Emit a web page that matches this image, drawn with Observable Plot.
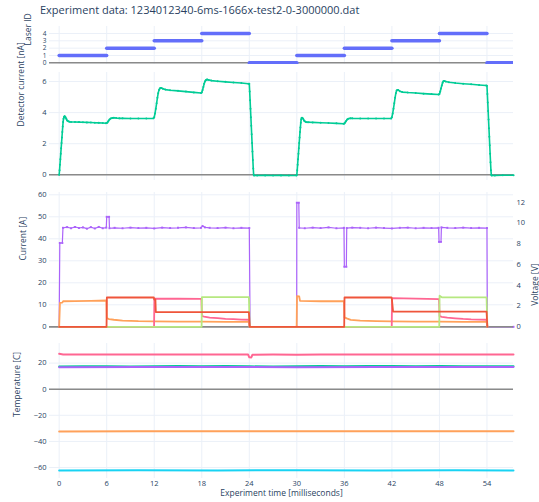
<!DOCTYPE html>
<html><head><meta charset="utf-8">
<script src="https://cdn.jsdelivr.net/npm/d3@7"></script>
<script src="https://cdn.jsdelivr.net/npm/@observablehq/plot@0.6"></script>
<style>
body{margin:0;background:#fff;}
#chart{position:relative;width:539px;height:502px;font-family:"Open Sans",sans-serif;overflow:hidden;background:#fff}
#title{position:absolute;left:40px;top:2px;font-size:11px;color:#2a3f5f;white-space:nowrap;font-family:"Open Sans",sans-serif}
</style></head><body>
<div id="chart"><div id="title">Experiment data: 1234012340-6ms-1666x-test2-0-3000000.dat</div></div>
<script>
// ---------- data ----------
const xTicks = [0, 6, 12, 18, 24, 30, 36, 42, 48, 54];
const laserTicks = [0, 1, 2, 3, 4];
const detTicks = [0, 2, 4, 6];
const ampTicks = [0, 10, 20, 30, 40, 50, 60];
const voltTicks = [0, 2, 4, 6, 8, 10, 12];
const tempTicks = [-60, -40, -20, 0, 20];

const laserStart = [0, 6, 12, 18, 24, 30, 36, 42, 48, 54];
const laserEnd   = [6, 12, 18, 24, 30, 36, 42, 48, 54, 57.35];
const laserId    = [1, 2, 3, 4, 0, 1, 2, 3, 4, 0];

// detector current [nA]: [time ms, value]
const detector = [
 [0,0],[0.05,0.3],[0.1,0.65],[0.15,1.0],[0.2,1.35],[0.25,1.7],[0.3,2.05],[0.35,2.4],[0.4,2.75],[0.45,3.1],[0.5,3.4],
 [0.55,3.6],[0.6,3.7],[0.65,3.75],[0.7,3.76],[0.8,3.7],[0.9,3.6],[1.0,3.5],[1.15,3.44],[1.3,3.41],[1.5,3.4],[2,3.4],
 [2.5,3.39],[3,3.38],[3.5,3.37],[4,3.36],[4.5,3.35],[5,3.34],[5.5,3.33],[5.9,3.32],[6.0,3.33],[6.1,3.37],[6.2,3.45],
 [6.35,3.55],[6.5,3.62],[6.7,3.66],[6.9,3.67],[7.2,3.65],[7.6,3.63],[8,3.63],[9,3.62],[10,3.62],[11,3.62],[11.9,3.63],
 [12.0,3.7],[12.1,3.95],[12.2,4.25],[12.3,4.6],[12.4,4.95],[12.5,5.25],[12.6,5.45],[12.7,5.55],[12.8,5.59],[12.9,5.58],
 [13.1,5.53],[13.4,5.48],[14,5.44],[15,5.4],[16,5.35],[17,5.3],[17.9,5.26],[18.0,5.3],[18.1,5.45],[18.2,5.65],[18.3,5.85],
 [18.4,6.0],[18.5,6.08],[18.6,6.12],[18.7,6.13],[18.9,6.1],[19.2,6.06],[20,6.02],[21,5.98],[22,5.94],[23,5.9],[23.9,5.86],
 [24.0,5.85],[24.05,5.35],[24.1,4.8],[24.15,4.25],[24.2,3.7],[24.25,3.15],[24.3,2.6],[24.35,2.05],[24.4,1.5],[24.45,0.95],
 [24.5,0.4],[24.55,0.0],[24.6,-0.05],[25,-0.05],[26,-0.04],[27,-0.05],[28,-0.04],[29,-0.05],[29.95,-0.04],
 [30,0],[30.05,0.3],[30.1,0.65],[30.15,1.0],[30.2,1.35],[30.25,1.7],[30.3,2.05],[30.35,2.4],[30.4,2.75],[30.45,3.05],
 [30.5,3.35],[30.55,3.55],[30.6,3.65],[30.65,3.67],[30.7,3.66],[30.8,3.6],[30.9,3.5],[31.0,3.44],[31.15,3.4],[31.3,3.38],
 [31.5,3.38],[32,3.37],[33,3.35],[34,3.33],[35,3.31],[35.9,3.28],[36.0,3.3],[36.1,3.36],[36.2,3.45],[36.35,3.55],
 [36.5,3.61],[36.75,3.64],[37,3.63],[38,3.62],[39,3.62],[40,3.62],[41,3.62],[41.9,3.62],[42.0,3.7],[42.1,3.95],
 [42.2,4.25],[42.3,4.6],[42.4,4.95],[42.5,5.25],[42.6,5.42],[42.7,5.46],[42.8,5.45],[43.0,5.38],[43.3,5.32],[44,5.29],
 [45,5.26],[46,5.22],[47,5.19],[47.9,5.16],[48.0,5.2],[48.1,5.35],[48.2,5.55],[48.3,5.75],[48.4,5.92],[48.5,6.02],
 [48.6,6.03],[48.8,6.0],[49.2,5.95],[50,5.9],[51,5.86],[52,5.82],[53,5.78],[53.9,5.74],[54.0,5.72],[54.05,5.2],
 [54.1,4.65],[54.15,4.1],[54.2,3.55],[54.25,3.0],[54.3,2.45],[54.35,1.9],[54.4,1.35],[54.45,0.8],[54.5,0.3],[54.55,0.0],
 [54.6,-0.05],[55,-0.05],[56,-0.03],[57.35,-0.03]
];

// total current [A] (left axis)
const currentTotal = [
 [0,0],[0.08,38.1],[0.4,38.1],[0.48,45.0],[1,45.3],[1.5,44.8],[2,45.4],[2.5,44.9],[3,45.2],[3.5,44.6],[4,45.3],[4.5,44.7],
 [5,45.4],[5.5,44.8],[5.95,45.1],[6.0,50.0],[6.3,50.0],[6.35,44.8],[7,45.0],[8,44.8],[9,45.1],[10,44.9],[11,45.0],[12,44.7],
 [13,45.1],[14,44.9],[15,45.0],[16,45.2],[17,44.9],[17.9,45.0],[18.1,45.8],[18.4,45.2],[19,45.0],[20,44.9],[21,45.1],
 [22,44.8],[23,45.0],[24.0,44.9],[24.1,0],[29.98,0],[30.0,56.4],[30.25,56.4],[30.3,45.0],[31,44.8],[32,45.1],[33,44.9],
 [34,45.2],[35,44.8],[35.95,45.0],[36.0,27.3],[36.25,27.3],[36.3,44.9],[37,45.1],[38,45.0],[39,44.8],[40,45.1],[41,44.9],
 [42,44.7],[43,45.0],[44,45.1],[45,44.8],[46,45.0],[47,44.9],[47.9,45.0],[47.95,38.6],[48.2,38.6],[48.25,45.2],[49,45.0],
 [50,44.9],[51,45.1],[52,44.9],[53,45.0],[54.0,44.9],[54.05,0],[57.35,0]
];

// laser voltages [V] (right axis)
const voltOrange = [
 [0,0],[0.1,2.31],[0.4,2.33],[0.5,2.46],[2,2.48],[4,2.5],[5.95,2.53],[6.02,0.83],[6.3,0.74],[6.9,0.68],[8,0.6],[9,0.57],
 [10,0.54],[12,0.52],[15,0.5],[18,0.49],[21,0.48],[23.95,0.47],[24.05,0],[29.98,0],[30.02,2.95],[30.3,2.92],[30.4,2.5],
 [33,2.46],[35.95,2.46],[36.02,0.91],[36.3,0.81],[36.8,0.66],[38,0.59],[40,0.54],[42,0.52],[45,0.5],[48,0.49],[51,0.48],
 [53.95,0.47],[54.05,0]
];
const voltPink = [
 [0,0],[11.98,0],[12.02,2.72],[15,2.7],[17.95,2.68],[18.02,1.04],[18.3,0.98],[19,0.89],[20,0.83],[21,0.77],[22,0.73],
 [23,0.7],[23.95,0.68],[24.05,0],[41.98,0],[42.02,2.76],[45,2.71],[47.95,2.66],[48.02,1.02],[48.3,0.95],[49,0.88],
 [50,0.82],[51,0.76],[52,0.72],[53,0.7],[53.95,0.68],[54.05,0]
];
const voltGreen = [
 [0,0],[17.98,0],[18.02,2.85],[23.95,2.85],[24.05,0],[47.98,0],[48.02,2.99],[48.3,2.84],[53.95,2.83],[54.05,0]
];
const voltRed = [
 [0,0],[5.98,0],[6.02,2.82],[11.95,2.82],[12.0,2.63],[12.15,2.63],[12.2,1.42],[23.95,1.42],[24.05,0],[35.98,0],
 [36.02,2.82],[41.95,2.82],[42.0,2.65],[42.15,1.46],[53.95,1.46],[54.05,0]
];

// temperatures [C]
const tempPink = [
 [0,27.1],[0.5,26.6],[3,26.5],[6,26.6],[9,26.5],[12,26.6],[15,26.5],[18,26.6],[21,26.5],[23.85,26.5],[24.0,24.4],
 [24.25,24.3],[24.4,26.4],[27,26.5],[30,26.4],[33,26.6],[36,26.5],[39,26.6],[42,26.5],[45,26.6],[48,26.5],[51,26.6],
 [54,26.5],[57.35,26.5]
];
const tempGreen = [
 [0,17.3],[3,17.5],[6,17.6],[9,17.4],[12,17.6],[15,17.7],[18,17.6],[21,17.8],[24,17.5],[27,17.4],[30,17.5],[33,17.7],
 [36,17.6],[39,17.7],[42,17.8],[45,17.6],[48,17.7],[51,17.6],[54,17.5],[57.35,17.5]
];
const tempPurple = [[0,16.9],[10,17.0],[20,17.0],[30,16.9],[40,17.0],[50,17.0],[57.35,17.0]];
const tempOrange = [[0,-32.4],[10,-32.3],[20,-32.3],[30,-32.2],[40,-32.3],[50,-32.3],[57.35,-32.3]];
const tempCyan = [[0,-62.2],[10,-62.1],[20,-62.2],[30,-62.1],[40,-62.2],[50,-62.1],[57.35,-62.2]];

// ---------- drawing ----------
const W = 539, ML = 49, MR = 26;
const XDOM = [-1.22, 57.35];
const GRID = "#ebf0f8", ZERO = "#8a8a8a", INK = "#2a3f5f";
const chart = document.getElementById("chart");
const tx = d => d[0], ty = d => d[1];

function panel({top, bottom, mt = 10, mb = 10, ydomain, marks}) {
  const svg = Plot.plot({
    width: W, height: bottom - top + mt + mb,
    marginLeft: ML, marginRight: MR, marginTop: mt, marginBottom: mb,
    x: {domain: XDOM, axis: null},
    y: {domain: ydomain, axis: null},
    style: {position: "absolute", left: "0px", top: (top - mt) + "px", background: "transparent",
            overflow: "visible", fontFamily: "'Open Sans', sans-serif", fontSize: "7.5px", color: INK},
    marks
  });
  chart.appendChild(svg);
}
const grids = (yt, fs = 7.5) => [
  Plot.gridX(xTicks, {stroke: GRID, strokeOpacity: 1, strokeWidth: 1}),
  Plot.gridY(yt, {stroke: GRID, strokeOpacity: 1, strokeWidth: 1}),
  Plot.axisY(yt, {anchor: "left", tickSize: 0, tickPadding: 3, label: null, fontSize: fs})
];
const ylabel = (t, dx, dy = 0, anchor = "left") =>
  Plot.text([t], {frameAnchor: anchor, dx, dy, rotate: -90, fontSize: 8.5, fill: INK});
const zero = Plot.ruleY([0], {stroke: ZERO, strokeWidth: 1.5});

// Panel 1: laser id
panel({top: 26, bottom: 64, ydomain: [-0.23, 4.95], marks: [
  ...grids(laserTicks, 6.5), zero,
  Plot.link(laserId, {x1: (d, i) => laserStart[i], x2: (d, i) => laserEnd[i], y1: d => d, y2: d => d,
    stroke: "#636efa", strokeWidth: 3.5, strokeLinecap: "round", clip: true}),
  ylabel("Laser ID", -21)
]});

// Panel 2: detector current
panel({top: 72, bottom: 180, ydomain: [-0.367, 6.58], marks: [
  ...grids(detTicks), zero,
  Plot.line(detector, {x: tx, y: ty, stroke: "#00cc96", strokeWidth: 1.6}),
  Plot.dot(detector, {x: tx, y: ty, r: 1, fill: "#00cc96"}),
  ylabel("Detector current [nA]", -28)
]});

// Panel 3: current (left) and voltage (right)
panel({top: 192, bottom: 328, ydomain: [-0.77, 61.05], marks: [
  ...grids(ampTicks), zero,
  Plot.line(currentTotal, {x: tx, y: ty, stroke: "#ab63fa", strokeWidth: 1.2}),
  Plot.dot(currentTotal, {x: tx, y: ty, r: 1.1, symbol: "square", fill: "#ab63fa"}),
  ylabel("Current [A]", -26)
]});
panel({top: 192, bottom: 328, ydomain: [-0.164, 12.93], marks: [
  zero,
  Plot.line(voltOrange, {x: tx, y: ty, stroke: "#FFA15A", strokeWidth: 1.8}),
  Plot.line(voltPink, {x: tx, y: ty, stroke: "#FF6692", strokeWidth: 1.8}),
  Plot.line(voltGreen, {x: tx, y: ty, stroke: "#B6E880", strokeWidth: 1.8}),
  Plot.line(voltRed, {x: tx, y: ty, stroke: "#EF553B", strokeWidth: 1.8}),
  Plot.axisY(voltTicks, {anchor: "right", tickSize: 0, tickPadding: 3, label: null}),
  ylabel("Voltage [V]", 22, 3, "right")
]});

// Panel 4: temperature
panel({top: 343, bottom: 478, mb: 24, ydomain: [-68.4, 35.0], marks: [
  ...grids(tempTicks), zero,
  Plot.line(tempCyan, {x: tx, y: ty, stroke: "#19d3f3", strokeWidth: 2}),
  Plot.line(tempOrange, {x: tx, y: ty, stroke: "#FFA15A", strokeWidth: 2}),
  Plot.line(tempGreen, {x: tx, y: ty, stroke: "#00cc96", strokeWidth: 2}),
  Plot.line(tempPurple, {x: tx, y: ty, stroke: "#ab63fa", strokeWidth: 2}),
  Plot.line(tempPink, {x: tx, y: ty, stroke: "#FF6692", strokeWidth: 2}),
  Plot.axisX(xTicks, {anchor: "bottom", tickSize: 0, tickPadding: 2, label: null}),
  Plot.text(["Experiment time [milliseconds]"], {frameAnchor: "bottom", dy: 17, fontSize: 8.5, fill: INK}),
  ylabel("Temperature [C]", -32, 6)
]});
</script></body></html>
